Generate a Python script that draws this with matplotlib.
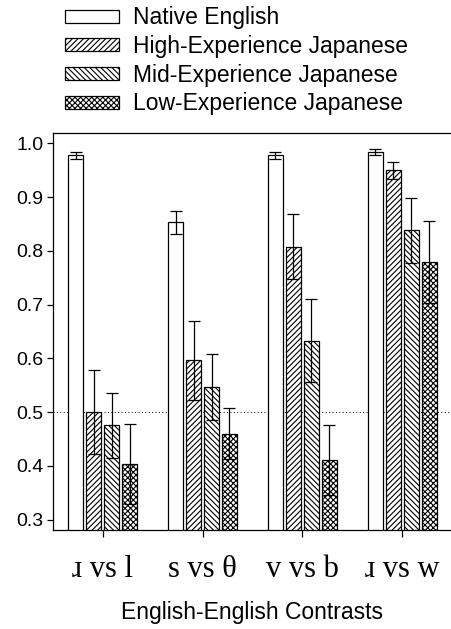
import matplotlib
matplotlib.use("Agg")
import matplotlib.pyplot as plt
import numpy as np

plt.rcParams['hatch.linewidth'] = 0.8

contrasts = ["\u0279 vs l", "s vs \u03b8", "v vs b", "\u0279 vs w"]
groups = ["Native English", "High-Experience Japanese",
          "Mid-Experience Japanese", "Low-Experience Japanese"]
native = [0.978, 0.853, 0.978, 0.984]
high = [0.500, 0.596, 0.808, 0.950]
mid = [0.475, 0.547, 0.633, 0.838]
low = [0.403, 0.460, 0.410, 0.779]
native_err = [0.007, 0.021, 0.006, 0.006]
high_err = [0.078, 0.074, 0.060, 0.016]
mid_err = [0.061, 0.061, 0.077, 0.060]
low_err = [0.075, 0.048, 0.065, 0.076]
yticks = [0.3, 0.4, 0.5, 0.6, 0.7, 0.8, 0.9, 1.0]

values = [native, high, mid, low]
errors = [native_err, high_err, mid_err, low_err]
hatches = [None, "//////", "\\\\\\\\\\\\", "xxxxxx"]

fig = plt.figure(figsize=(4.52, 6.29), dpi=100)
ax = fig.add_axes([0.117, 0.157, 0.883, 0.632])

x = np.arange(len(contrasts))
width = 0.15
step = 0.18
offsets = (np.arange(4) - 1.5) * step

ax.axhline(0.5, color="black", linestyle=(0, (1, 2.5)), linewidth=0.7, zorder=0)

handles = []
for i in range(4):
    b = ax.bar(x + offsets[i], values[i], width, bottom=0,
               color="white", edgecolor="black", linewidth=0.9,
               hatch=hatches[i], label=groups[i], zorder=2)
    ax.errorbar(x + offsets[i], values[i], yerr=errors[i], fmt="none",
                ecolor="black", elinewidth=0.9, capsize=4.5, capthick=0.9,
                zorder=3)
    handles.append(b)

ax.set_xlim(-0.5, 3.5)
ax.set_ylim(0.28, 1.02)
ax.set_yticks(yticks)
ax.set_yticklabels([f"{v:.1f}" for v in yticks], fontsize=14,
                   family=["Liberation Sans", "DejaVu Sans"])
ax.set_xticks(x)
ax.set_xticklabels(contrasts, fontsize=22,
                   family=["Liberation Serif", "DejaVu Serif"])
ax.tick_params(axis="x", length=5, width=0.9, pad=13)
ax.tick_params(axis="y", length=4, width=0.9, pad=3)
ax.spines["right"].set_visible(False)
for s in ["left", "bottom", "top"]:
    ax.spines[s].set_linewidth(0.9)

ax.set_xlabel("English-English Contrasts", fontsize=16.5,
              family=["Liberation Sans", "DejaVu Sans"], labelpad=12)

fig.legend(handles=handles, labels=groups, loc="upper left",
           bbox_to_anchor=(0.144, 0.99), frameon=False,
           prop={"family": "Liberation Sans", "size": 16.5},
           handlelength=2.36, handleheight=0.48, handletextpad=0.6,
           labelspacing=0.25, borderaxespad=0, borderpad=0)

fig.savefig("out.png", dpi=100)
